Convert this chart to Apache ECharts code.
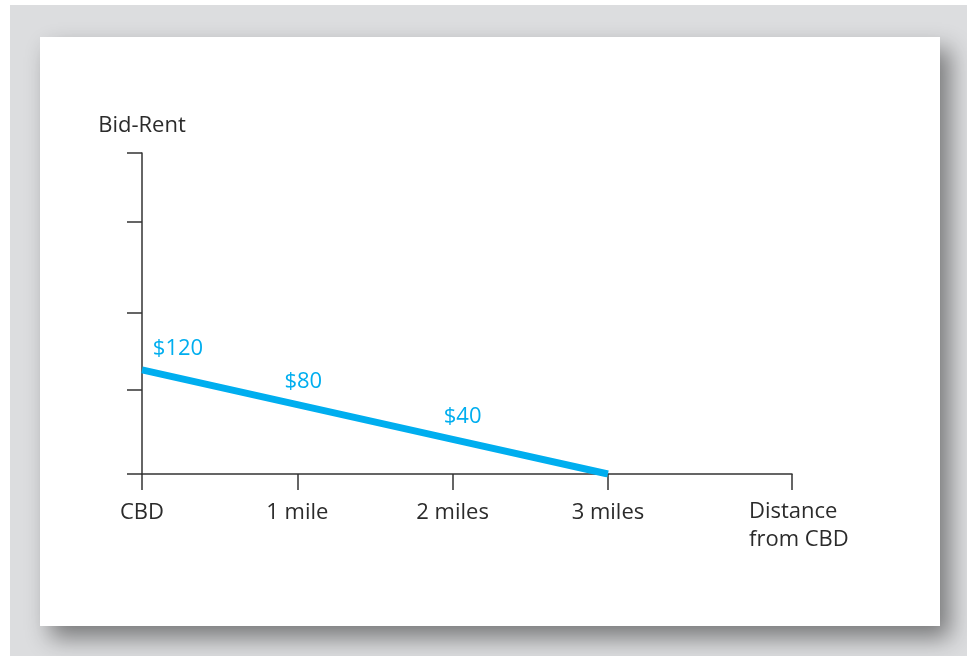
<!DOCTYPE html>
<html>
<head>
<meta charset="utf-8">
<script src="https://cdn.jsdelivr.net/npm/echarts@6/dist/echarts.min.js"></script>
<style>
  html, body { margin: 0; padding: 0; width: 967px; height: 656px; background: #ffffff; overflow: hidden; }
  #bg { position: absolute; left: 10px; top: 5px; right: 0; bottom: 0; background: #dcdddf; }
  #card { position: absolute; left: 40px; top: 37px; width: 900px; height: 589px; background: #ffffff;
          box-shadow: 10px 12px 22px rgba(0,0,0,0.45); }
  #chart { position: absolute; left: 0; top: 0; width: 967px; height: 656px; }
</style>
</head>
<body>
<div id="bg"></div>
<div id="card"></div>
<div id="chart"></div>
<script>
// Distance from CBD (miles) and bid-rent values
const distances = [0, 1, 2, 3];
const bidRent = [120, 80, 40, 0];
// X tick labels
const xTickValues = [0, 1, 2, 3];
const xTickLabels = ['CBD', '1 mile', '2 miles', '3 miles'];
const xAxisMax = 4.185;
const xTickMarks = [0, 1, 2, 3, 4.185];
// Y ticks (unlabelled)
const yTickMarks = [0, 97, 186, 291, 370];
const yAxisMax = 370;
// label offsets (styling)
const labelOffsets = [[36, -21], [6, -23], [10, -23], [0, 0]];

const FONT = '"Open Sans", "Lato", sans-serif';
const TEXT = '#2b2b2b';
const BLUE = '#00aeef';

const chart = echarts.init(document.getElementById('chart'), null, { renderer: 'canvas' });

const seriesData = distances.map((d, i) => ({
  value: [d, bidRent[i]],
  label: {
    show: bidRent[i] > 0,
    offset: labelOffsets[i]
  }
}));

chart.setOption({
  animation: false,
  grid: { left: 142, right: 175, top: 153, bottom: 182, outerBoundsMode: 'none', containLabel: false },
  xAxis: {
    type: 'value',
    min: 0,
    max: xAxisMax,
    splitLine: { show: false },
    axisLine: { show: true, lineStyle: { color: '#333', width: 1.5 } },
    axisTick: { show: true, length: 16, lineStyle: { color: '#333', width: 1.5 }, customValues: xTickMarks },
    axisLabel: {
      show: true,
      customValues: xTickValues,
      formatter: function (v) { const i = xTickValues.indexOf(v); return i >= 0 ? xTickLabels[i] : ''; },
      margin: 28,
      fontFamily: FONT,
      fontSize: 22,
      color: TEXT
    },
    name: 'Distance\nfrom CBD',
    nameLocation: 'end',
    nameGap: -43,
    nameTextStyle: {
      fontFamily: FONT, fontSize: 22, color: TEXT, align: 'left', verticalAlign: 'top',
      lineHeight: 28, padding: [24, 0, 0, 0]
    }
  },
  yAxis: {
    type: 'value',
    min: 0,
    max: yAxisMax,
    splitLine: { show: false },
    axisLine: { show: true, lineStyle: { color: '#333', width: 1.5 } },
    axisTick: { show: true, length: 15, lineStyle: { color: '#333', width: 1.5 }, customValues: yTickMarks },
    axisLabel: { show: false },
    name: 'Bid-Rent',
    nameLocation: 'end',
    nameGap: 16,
    nameTextStyle: { fontFamily: FONT, fontSize: 22, color: TEXT, align: 'center', verticalAlign: 'bottom' }
  },
  series: [{
    type: 'line',
    data: seriesData,
    showSymbol: true,
    symbol: 'circle',
    symbolSize: 0,
    lineStyle: { color: BLUE, width: 7, cap: 'butt' },
    itemStyle: { color: BLUE },
    label: {
      show: true,
      position: 'inside',
      align: 'center',
      verticalAlign: 'middle',
      formatter: function (p) { return '$' + p.value[1]; },
      fontFamily: FONT,
      fontSize: 22,
      color: BLUE
    },
    emphasis: { disabled: true }
  }]
});
</script>
</body>
</html>
